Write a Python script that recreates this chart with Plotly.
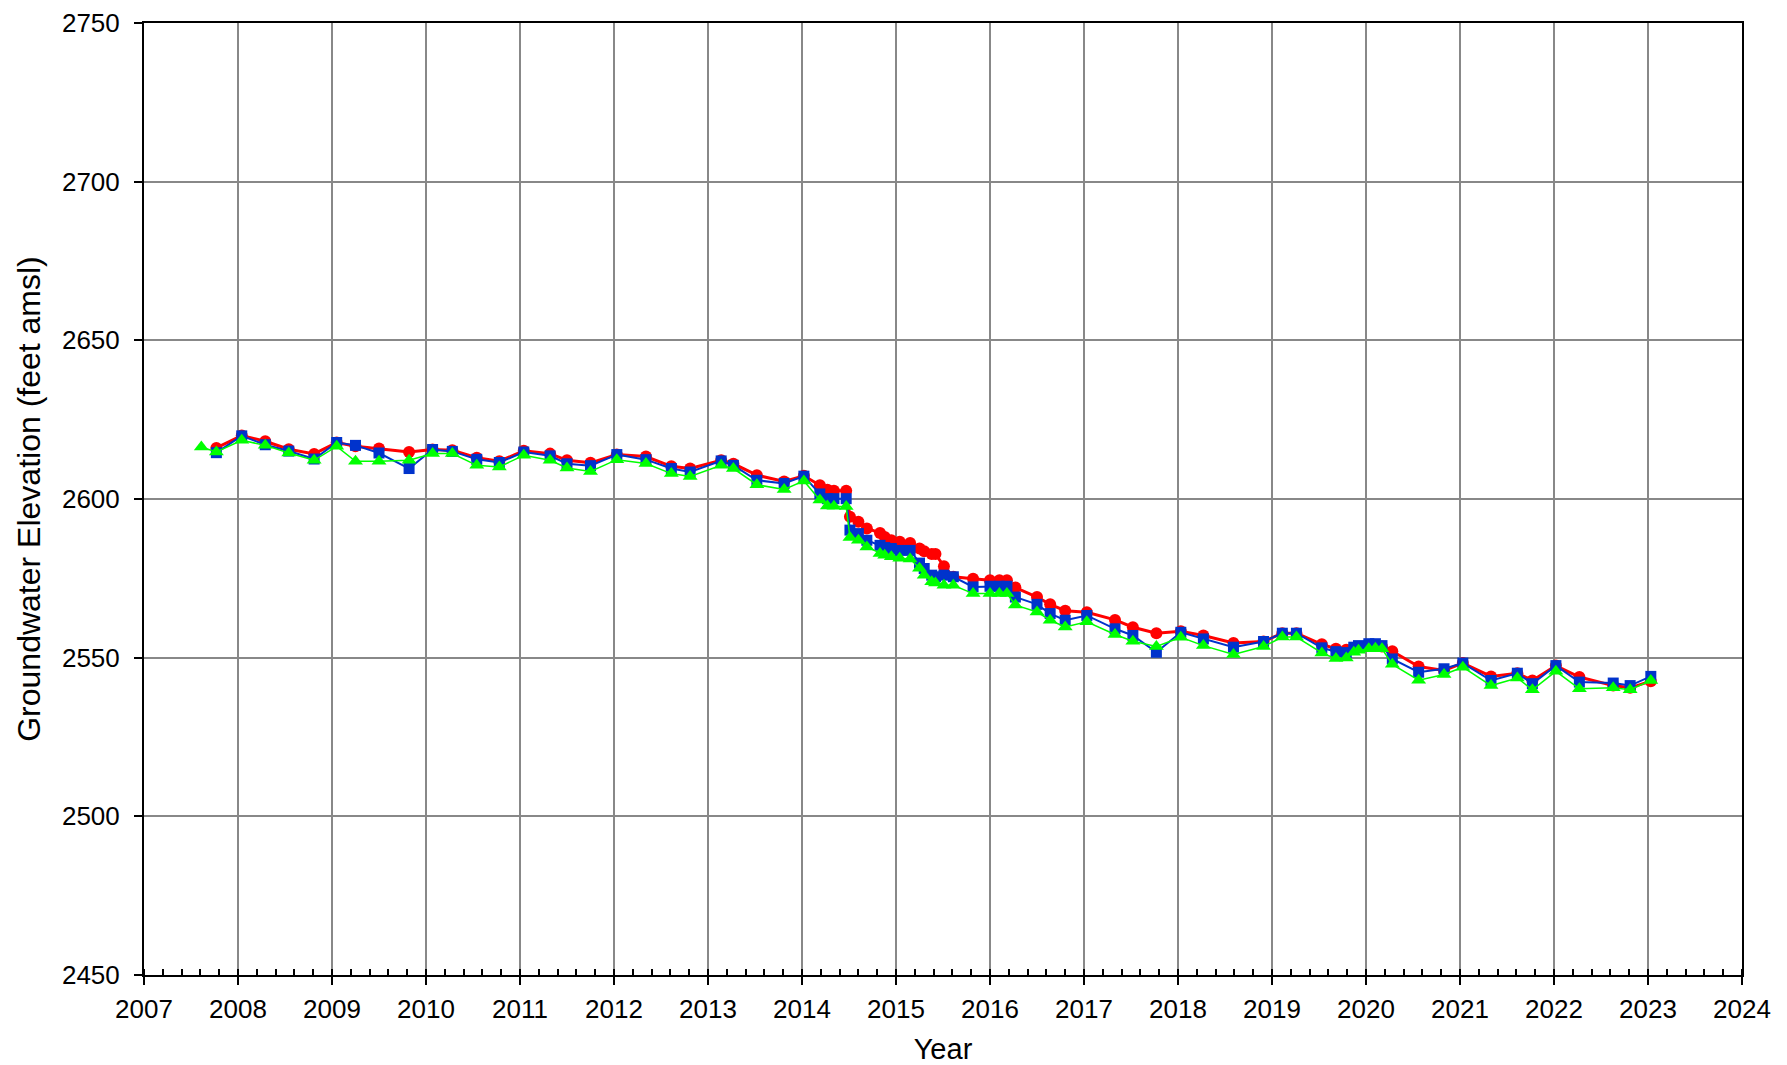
import plotly.graph_objects as go

# Sampling dates (decimal years) shared by the three monitoring intervals
dates = [
    2007.61, 2007.77, 2008.04, 2008.29, 2008.54, 2008.81, 2009.05, 2009.25, 2009.50, 2009.82,
    2010.07, 2010.28, 2010.54, 2010.78, 2011.04, 2011.32, 2011.50, 2011.75, 2012.03, 2012.34,
    2012.61, 2012.81, 2013.14, 2013.27, 2013.52, 2013.81, 2014.02, 2014.19, 2014.27, 2014.34,
    2014.47, 2014.51, 2014.60, 2014.69, 2014.83, 2014.88, 2014.95, 2015.04, 2015.15, 2015.25,
    2015.30, 2015.38, 2015.42, 2015.51, 2015.61, 2015.82, 2016.00, 2016.10, 2016.18, 2016.27,
    2016.50, 2016.64, 2016.80, 2017.03, 2017.33, 2017.52, 2017.77, 2018.03, 2018.27, 2018.59,
    2018.91, 2019.11, 2019.26, 2019.53, 2019.68, 2019.79, 2019.87, 2019.92, 2020.03, 2020.10,
    2020.17, 2020.28, 2020.56, 2020.83, 2021.03, 2021.33, 2021.61, 2021.77, 2022.02, 2022.27,
    2022.63, 2022.81, 2023.03,
]

# Groundwater elevation (feet amsl), red circles
elev_red = [
    None, 2616.1, 2620.0, 2618.2, 2615.7, 2614.2, 2617.8, 2616.6, 2615.9, 2614.8,
    2615.6, 2615.4, 2613.0, 2611.9, 2615.2, 2614.3, 2612.2, 2611.4, 2614.0, 2613.4,
    2610.3, 2609.6, 2612.2, 2611.1, 2607.5, 2605.5, 2607.3, 2604.3, 2602.9, 2602.6,
    2602.6, 2594.4, 2592.8, 2590.7, 2589.3, 2588.0, 2587.0, 2586.5, 2586.1, 2584.4,
    2583.5, 2582.7, 2582.7, 2578.8, 2575.5, 2574.9, 2574.4, 2574.4, 2574.4, 2572.1,
    2569.1, 2566.8, 2564.8, 2564.3, 2561.9, 2559.6, 2557.7, 2558.3, 2557.0, 2554.6,
    2555.1, 2557.7, 2557.7, 2554.2, 2552.8, 2552.5, 2553.0, 2553.3, 2554.0, 2554.0,
    2553.5, 2552.0, 2547.2, 2546.0, 2548.3, 2544.1, 2545.1, 2542.8, 2547.5, 2543.9,
    2541.2, 2540.5, 2542.6,
]

# Groundwater elevation (feet amsl), blue squares
elev_blue = [
    None, 2614.6, 2619.9, 2617.1, 2615.1, 2612.6, 2617.8, 2616.9, 2614.5, 2609.6,
    2615.6, 2615.0, 2612.5, 2611.5, 2614.8, 2613.6, 2611.1, 2610.5, 2614.0, 2612.4,
    2609.6, 2608.5, 2612.0, 2610.6, 2605.9, 2604.9, 2607.2, 2601.6, 2600.1, 2600.1,
    2600.1, 2590.2, 2589.1, 2587.0, 2585.4, 2584.7, 2584.4, 2583.8, 2583.8, 2579.8,
    2578.1, 2576.0, 2575.5, 2576.0, 2575.5, 2572.3, 2572.5, 2572.5, 2572.5, 2569.1,
    2566.8, 2563.9, 2561.8, 2563.3, 2559.1, 2557.0, 2551.7, 2558.0, 2555.9, 2553.3,
    2555.1, 2557.7, 2557.7, 2553.1, 2551.9, 2551.6, 2553.3, 2553.8, 2554.4, 2554.4,
    2553.8, 2549.6, 2545.4, 2546.5, 2548.3, 2542.8, 2545.1, 2541.8, 2547.5, 2542.3,
    2542.0, 2541.2, 2544.1,
]

# Groundwater elevation (feet amsl), green triangles
elev_green = [
    2616.4, 2614.8, 2618.5, 2616.9, 2614.5, 2612.2, 2616.6, 2611.9, 2611.9, 2612.2,
    2614.3, 2614.3, 2610.6, 2610.1, 2613.8, 2612.2, 2609.8, 2608.7, 2612.4, 2611.2,
    2608.0, 2607.1, 2610.6, 2609.6, 2604.5, 2603.0, 2605.7, 2599.7, 2597.8, 2597.7,
    2597.6, 2587.9, 2587.0, 2584.9, 2582.8, 2582.3, 2581.8, 2581.3, 2581.1, 2578.2,
    2576.0, 2573.9, 2573.5, 2572.8, 2572.8, 2570.2, 2570.2, 2570.2, 2570.2, 2566.6,
    2564.4, 2561.8, 2559.7, 2561.3, 2557.3, 2555.2, 2553.5, 2556.4, 2553.8, 2551.0,
    2553.5, 2556.5, 2556.5, 2551.5, 2549.7, 2549.9, 2551.7, 2552.3, 2552.8, 2553.0,
    2552.8, 2547.9, 2542.9, 2544.7, 2547.0, 2541.2, 2543.6, 2539.9, 2545.7, 2540.2,
    2540.5, 2539.9, 2542.8,
]

year_ticks = list(range(2007, 2025))
elev_ticks = [2450, 2500, 2550, 2600, 2650, 2700, 2750]

FONT = "Arial, Liberation Sans, sans-serif"

fig = go.Figure()

fig.add_trace(go.Scatter(
    x=dates, y=elev_red, mode="lines+markers", connectgaps=True,
    line=dict(color="#FF0000", width=3),
    marker=dict(symbol="circle", size=12, color="#FF0000"),
    showlegend=False,
))
fig.add_trace(go.Scatter(
    x=dates, y=elev_blue, mode="lines+markers", connectgaps=True,
    line=dict(color="#0033CC", width=2),
    marker=dict(symbol="square", size=11, color="#0033CC"),
    showlegend=False,
))
fig.add_trace(go.Scatter(
    x=dates, y=elev_green, mode="lines+markers", connectgaps=True,
    line=dict(color="#00FF00", width=1.5),
    marker=dict(symbol="triangle-up", size=13, color="#00FF00"),
    showlegend=False,
))

fig.update_layout(
    width=1787, height=1065, autosize=False,
    margin=dict(l=144, r=45, t=23, b=90),
    paper_bgcolor="white", plot_bgcolor="white",
    font=dict(family=FONT, color="black", size=26),
)

fig.update_xaxes(
    range=[2007, 2024], tickmode="array", tickvals=year_ticks,
    ticktext=[str(y) for y in year_ticks],
    showgrid=True, gridcolor="#888888", gridwidth=2,
    showline=True, linecolor="black", linewidth=2, mirror=True,
    ticks="outside", ticklen=8, tickwidth=2, tickcolor="black",
    ticklabelstandoff=2,
    minor=dict(tick0=2007, dtick=0.2, ticks="inside", ticklen=6, tickwidth=2,
               tickcolor="black", showgrid=False),
    tickfont=dict(size=26),
    title=dict(text="Year", font=dict(size=29), standoff=15),
    zeroline=False, automargin=False,
)

fig.update_yaxes(
    range=[2450, 2750], tickmode="array", tickvals=elev_ticks,
    ticktext=[str(v) for v in elev_ticks],
    showgrid=True, gridcolor="#888888", gridwidth=2,
    showline=True, linecolor="black", linewidth=2, mirror=True,
    ticks="outside", ticklen=8, tickwidth=2, tickcolor="black",
    ticklabelstandoff=9,
    tickfont=dict(size=26),
    title=dict(text="Groundwater Elevation (feet amsl)", font=dict(size=32), standoff=12),
    zeroline=False, automargin=False,
)

fig.write_html("out.html")
